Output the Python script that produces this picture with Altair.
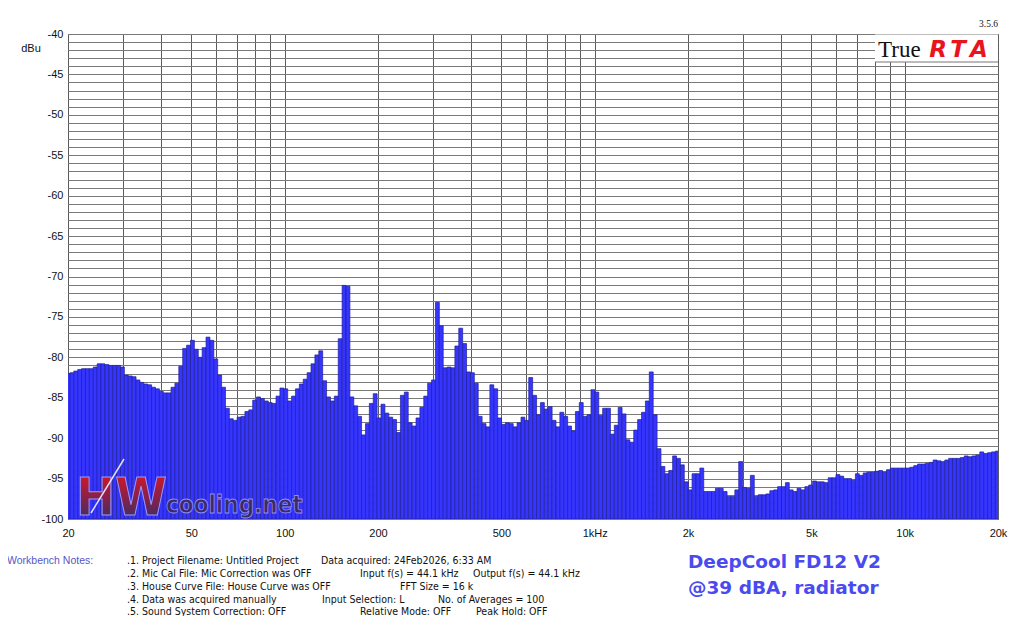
import altair as alt
import pandas as pd

# 1/24-octave RTA levels (dBu), band 0 = 20 Hz ... band 239 = ~19.8 kHz
levels_dbu = [
    -82.0, -81.9, -81.7, -81.5, -81.4, -81.4, -81.4, -81.2, -80.8, -80.8, -80.9, -81.0,
    -81.0, -81.0, -81.2, -82.2, -82.3, -82.4, -82.8, -83.1, -83.3, -83.4, -83.7, -83.9,
    -84.2, -84.4, -84.4, -83.7, -83.2, -81.1, -78.9, -78.5, -77.9, -79.0, -80.0, -78.8,
    -77.5, -77.9, -80.2, -82.2, -83.7, -86.3, -87.6, -87.8, -87.4, -87.3, -86.7, -86.5,
    -85.3, -84.9, -85.1, -85.4, -85.6, -85.7, -84.8, -83.8, -83.9, -85.4, -84.8, -83.9,
    -83.3, -82.7, -81.9, -80.8, -79.7, -79.2, -82.9, -84.9, -85.4, -84.8, -77.7, -71.1,
    -71.2, -84.9, -86.0, -87.3, -89.6, -88.2, -85.7, -84.5, -87.5, -85.8, -86.9, -87.4,
    -87.7, -89.3, -84.7, -84.3, -88.1, -88.5, -87.5, -86.2, -84.8, -83.2, -82.8, -73.2,
    -76.1, -81.3, -81.2, -81.3, -78.6, -76.4, -78.3, -81.8, -81.9, -83.2, -87.3, -88.2,
    -88.6, -83.4, -83.9, -87.5, -88.3, -88.1, -88.2, -88.6, -88.1, -87.4, -87.8, -82.5,
    -84.7, -87.1, -85.6, -86.4, -86.1, -87.8, -88.6, -86.8, -87.3, -88.5, -89.1, -86.7,
    -85.6, -87.3, -87.1, -84.0, -84.3, -87.2, -86.3, -86.3, -89.5, -88.4, -86.2, -87.0,
    -90.2, -90.5, -89.0, -87.7, -86.8, -85.4, -81.8, -87.1, -91.3, -93.5, -94.4, -94.0,
    -92.2, -92.5, -93.3, -95.4, -96.4, -94.4, -94.4, -93.7, -96.6, -96.6, -96.6, -96.2,
    -96.2, -96.6, -97.2, -97.2, -96.4, -92.9, -96.1, -96.2, -94.6, -97.2, -97.0, -97.0,
    -96.9, -96.5, -96.4, -96.0, -96.0, -95.5, -96.4, -96.6, -96.2, -96.4, -96.0, -95.8,
    -95.3, -95.4, -95.4, -95.5, -94.9, -94.9, -94.5, -94.7, -95.0, -95.0, -95.2, -94.4,
    -94.6, -94.3, -94.2, -94.2, -94.1, -94.0, -94.2, -93.9, -93.7, -93.7, -93.7, -93.7,
    -93.7, -93.6, -93.4, -93.2, -93.2, -93.1, -93.0, -92.7, -92.8, -92.9, -92.7, -92.5,
    -92.5, -92.5, -92.4, -92.2, -92.3, -92.2, -92.1, -91.7, -91.9, -91.8, -91.7, -91.6,
]

band_index = list(range(len(levels_dbu)))
centre_hz = [20 * 2 ** (i / 24) for i in band_index]

x_tick_labels = {20: "20", 50: "50", 100: "100", 200: "200", 500: "500",
                 1000: "1kHz", 2000: "2k", 5000: "5k", 10000: "10k", 20000: "20k"}
x_grid = [20, 30, 40, 50, 60, 70, 80, 90,
          100, 200, 300, 400, 500, 600, 700, 800, 900,
          1000, 2000, 3000, 4000, 5000, 6000, 7000, 8000, 9000,
          10000, 20000]
y_grid = list(range(-100, -39))

notes_left = [
    ".1. Project Filename: Untitled Project",
    ".2. Mic Cal File: Mic Correction was OFF",
    ".3. House Curve File: House Curve was OFF",
    ".4. Data was acquired manually",
    ".5. Sound System Correction: OFF",
]
notes_extra = [
    ("Data acquired: 24Feb2026, 6:33 AM", 253, 0),
    ("Input f(s) = 44.1 kHz", 292, 1),
    ("Output f(s) = 44.1 kHz", 405, 1),
    ("FFT Size = 16 k", 332, 2),
    ("Input Selection: L", 254, 3),
    ("No. of Averages = 100", 370, 3),
    ("Relative Mode:  OFF", 292, 4),
    ("Peak Hold: OFF", 408, 4),
]
title_lines = ["DeepCool FD12 V2", "@39 dBA, radiator"]

df = pd.DataFrame({"centre": centre_hz, "level": levels_dbu})
df["lo"] = df["centre"] * 2 ** (-1 / 48)
df["hi"] = df["centre"] * 2 ** (1 / 48)
df["floor"] = -100

x_expr = " : ".join(f"datum.value == {k} ? '{v}'" for k, v in x_tick_labels.items()) + " : ''"

FONT = "Liberation Sans, Arial, sans-serif"
NARROW = "Liberation Sans Narrow, Arial Narrow, DejaVu Sans Condensed, sans-serif"

bars = alt.Chart(df).mark_bar(
    clip=True, fill="#3535ff", stroke="#20209a", strokeWidth=0.7
).encode(
    x=alt.X("lo:Q", scale=alt.Scale(type="log", domain=[20, 20000], nice=False),
            axis=alt.Axis(values=x_grid, labelExpr=x_expr, title=None, grid=True,
                          gridColor="#5c5c5c", gridWidth=1, ticks=False, domain=False,
                          labelFont=FONT, labelFontSize=11, labelColor="#111",
                          labelPadding=8, labelOverlap=False, labelFlush=False,
                          labelBound=False)),
    x2="hi:Q",
    y=alt.Y("level:Q", scale=alt.Scale(domain=[-100, -40], nice=False, zero=False),
            axis=alt.Axis(values=y_grid,
                          labelExpr="datum.value % 5 == 0 ? '-' + abs(datum.value) : ''",
                          title=None, grid=True, gridColor="#7a7a7a", gridWidth=1,
                          ticks=False, domain=False, labelFont=FONT, labelFontSize=11,
                          labelColor="#111", labelPadding=5, labelOverlap=False,
                          labelFlush=False, labelBound=False)),
    y2="floor:Q",
)

one = pd.DataFrame({"k": [0]})


def txt(text, x, y, size=11, color="#111", font=FONT, align="left", weight="normal",
        style="normal", baseline="middle", fill=None, stroke=None, sw=0):
    kw = dict(align=align, baseline=baseline, font=font, fontSize=size,
              fontWeight=weight, fontStyle=style)
    if fill is not None:
        kw["fill"] = fill
    else:
        kw["color"] = color
    if stroke is not None:
        kw["stroke"] = stroke
        kw["strokeWidth"] = sw
    return alt.Chart(one).mark_text(**kw).encode(
        x=alt.value(x), y=alt.value(y), text=alt.value(text))


layers = [bars]

# watermark
grad_hw = alt.LinearGradient(gradient="linear", x1=0, y1=0, x2=0, y2=1,
                             stops=[alt.GradientStop(offset=0, color="#e8161c"),
                                    alt.GradientStop(offset=0.5, color="#8a2048"),
                                    alt.GradientStop(offset=1, color="#24326c")])
layers.append(txt("HW", 8, 481, size=52, font=NARROW, weight="bold",
                  baseline="alphabetic", fill=grad_hw, stroke="#9a9aff", sw=1))
layers.append(alt.Chart(one).mark_rule(color="#e0e0ff", strokeWidth=1.5).encode(
    x=alt.value(56), y=alt.value(425), x2=alt.value(23), y2=alt.value(479)))
layers.append(txt("cooling.net", 98, 479, size=24, font=NARROW, weight="bold",
                  baseline="alphabetic", color="#3d2a62", stroke="#8f8fff", sw=0.8))

# TrueRTA logo box
layers.append(alt.Chart(one).mark_rect(fill="white").encode(
    x=alt.value(807), x2=alt.value(930), y=alt.value(0.5), y2=alt.value(28)))
layers.append(alt.Chart(one).mark_rule(color="#777", strokeWidth=1).encode(
    x=alt.value(807), x2=alt.value(930), y=alt.value(28)))
layers.append(txt("True", 810, 16, size=23, font="Liberation Serif, Times New Roman, serif"))
for letter, lx in [("R", 870), ("T", 890), ("A", 911)]:
    layers.append(txt(letter, lx, 16, size=23, color="#e8141e",
                      font="DejaVu Sans, sans-serif", weight="bold", style="italic",
                      align="center"))
layers.append(txt("3.5.6", 930, -10, size=9.5, font="Liberation Serif, serif", align="right"))

# axis unit
layers.append(txt("dBu", -37, 15, size=11, align="center"))

# workbench notes
row_y = [527, 540, 553, 566, 578]
layers.append(txt("Workbench Notes:", -61, row_y[0], size=10.5, color="#5656c8"))
for i, line in enumerate(notes_left):
    layers.append(txt(line, 59, row_y[i], size=10.5, font=NARROW))
for line, nx, r in notes_extra:
    layers.append(txt(line, nx, row_y[r], size=10.5, font=NARROW))

# chart title (bottom right)
layers.append(txt(title_lines[0], 620, 528, size=18.5, color="#4a4af0",
                  font="DejaVu Sans, sans-serif", weight="bold"))
layers.append(txt(title_lines[1], 620, 554, size=18.5, color="#4a4af0",
                  font="DejaVu Sans, sans-serif", weight="bold"))

chart = alt.layer(*layers).properties(
    width=930, height=485,
    padding={"left": 60, "top": 26, "right": 18, "bottom": 97},
    autosize=alt.AutoSizeParams(type="none"),
    background="white",
).configure_view(stroke="#666", strokeWidth=1)

chart.save("out.html", embed_options={"renderer": "svg", "actions": False})
